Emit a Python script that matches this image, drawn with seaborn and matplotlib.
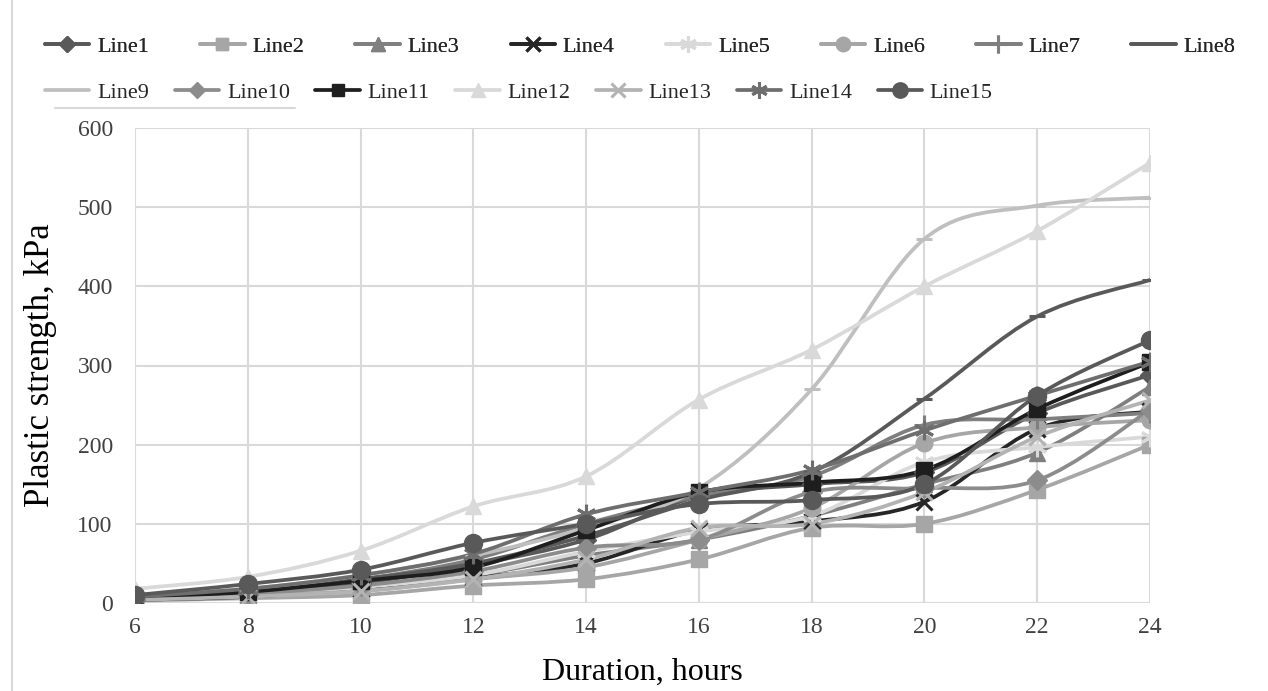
import numpy as np
import pandas as pd
import matplotlib
matplotlib.use("Agg")
import matplotlib.pyplot as plt
from matplotlib.path import Path
from matplotlib.patches import PathPatch
from matplotlib.lines import Line2D
import seaborn as sns

# ---------------- data ----------------
hours = [6, 8, 10, 12, 14, 16, 18, 20, 22, 24]

line1 = [5, 12, 25, 48, 80, 135, 150, 165, 240, 288]
line2 = [3, 6, 10, 22, 30, 55, 95, 100, 143, 200]
line3 = [5, 10, 20, 35, 60, 80, 110, 150, 190, 273]
line4 = [4, 8, 18, 32, 50, 92, 103, 128, 220, 242]
line5 = [5, 10, 20, 35, 65, 90, 110, 178, 197, 210]
line6 = [5, 10, 15, 30, 45, 80, 120, 202, 222, 231]
line7 = [7, 15, 30, 55, 100, 135, 160, 225, 232, 240]
line8 = [8, 15, 30, 50, 85, 130, 165, 258, 362, 408]
line9 = [10, 18, 35, 60, 95, 145, 270, 460, 502, 512]
line10 = [5, 12, 22, 40, 70, 80, 140, 145, 155, 244]
line11 = [5, 14, 28, 45, 92, 140, 152, 168, 245, 304]
line12 = [18, 33, 66, 122, 160, 257, 320, 400, 470, 556]
line13 = [4, 8, 15, 30, 55, 95, 100, 140, 210, 256]
line14 = [8, 18, 35, 62, 112, 140, 168, 218, 262, 305]
line15 = [10, 24, 42, 76, 100, 125, 130, 150, 262, 332]

series_names = [f"Line{i}" for i in range(1, 16)]
series_values = [line1, line2, line3, line4, line5, line6, line7, line8,
                 line9, line10, line11, line12, line13, line14, line15]

x_label = "Duration, hours"
y_label = "Plastic strength, kPa"
x_ticks = [6, 8, 10, 12, 14, 16, 18, 20, 22, 24]
y_ticks = [0, 100, 200, 300, 400, 500, 600]

# ---------------- styles ----------------
ASTER = (6, 2, 0)
styles = {
    "Line1": dict(color="#595959", marker="D", ms=10),
    "Line2": dict(color="#a6a6a6", marker="s", ms=11),
    "Line3": dict(color="#7f7f7f", marker="^", ms=12),
    "Line4": dict(color="#262626", marker="x", ms=12),
    "Line5": dict(color="#d9d9d9", marker=ASTER, ms=14),
    "Line6": dict(color="#a6a6a6", marker="o", ms=12),
    "Line7": dict(color="#7f7f7f", marker="+", ms=15),
    "Line8": dict(color="#595959", marker="_", ms=11),
    "Line9": dict(color="#bfbfbf", marker="_", ms=11),
    "Line10": dict(color="#8c8c8c", marker="D", ms=10),
    "Line11": dict(color="#1e1e1e", marker="s", ms=11),
    "Line12": dict(color="#d9d9d9", marker="^", ms=12),
    "Line13": dict(color="#b3b3b3", marker="x", ms=12),
    "Line14": dict(color="#6e6e6e", marker=ASTER, ms=14),
    "Line15": dict(color="#595959", marker="o", ms=13),
}

sns.set_theme(style="whitegrid")
plt.rcParams["font.family"] = ["Liberation Serif", "DejaVu Serif"]

W, H = 1268, 691
fig = plt.figure(figsize=(W / 100, H / 100), dpi=100)
ax = fig.add_axes([135 / W, 1 - 603 / H, (1150 - 135) / W, (603 - 128) / H])

LW = 2.7


def smooth_path(xs, ys):
    xs = np.asarray(xs, float)
    ys = np.asarray(ys, float)
    pts = np.column_stack([xs, ys])
    n = len(pts)
    verts = [pts[0]]
    codes = [Path.MOVETO]
    for i in range(n - 1):
        p0 = pts[i - 1] if i > 0 else pts[i]
        p1 = pts[i]
        p2 = pts[i + 1]
        p3 = pts[i + 2] if i + 2 < n else pts[i + 1]
        c1 = p1 + (p2 - p0) / 6.0
        c2 = p2 - (p3 - p1) / 6.0
        verts += [c1, c2, p2]
        codes += [Path.CURVE4] * 3
    return Path(verts, codes)


handles = {}
for z, (name, vals) in enumerate(zip(series_names, series_values)):
    st = styles[name]
    df = pd.DataFrame({"x": hours, "y": vals})
    patch = PathPatch(smooth_path(df["x"], df["y"]), facecolor="none",
                      edgecolor=st["color"], lw=LW, zorder=3 + z * 0.01,
                      capstyle="round", joinstyle="round")
    ax.add_patch(patch)
    mew = 2.2 if st["marker"] in ("x", "+", "_", ASTER) else 1.0
    sns.lineplot(data=df, x="x", y="y", ax=ax, linestyle="", marker=st["marker"],
                 markersize=st["ms"], color=st["color"], markeredgecolor=st["color"],
                 markeredgewidth=mew, zorder=4 + z * 0.01, legend=False)
    lm = st["marker"]
    lms = st["ms"] * 0.85
    if name in ("Line8", "Line9"):
        lm = None
    handles[name] = Line2D([0], [0], color=st["color"], lw=LW, marker=lm,
                           markersize=lms, markeredgecolor=st["color"],
                           markeredgewidth=mew)

ax.set_xlim(6, 24)
ax.set_ylim(0, 600)
ax.set_xticks(x_ticks)
ax.set_yticks(y_ticks)
ax.grid(True, color="#d9d9d9", lw=1.5)
for s in ax.spines.values():
    s.set_visible(False)
ax.tick_params(axis="both", labelsize=17, colors="#404040", length=0)
ax.tick_params(axis="y", pad=16)
ax.tick_params(axis="x", pad=10)
ax.set_xlabel(x_label, fontsize=23, color="black")
ax.set_ylabel(y_label, fontsize=25, color="black")
ax.xaxis.set_label_coords(0.5, -0.115)
ax.yaxis.set_label_coords(-0.077, 0.5)

# Legend: two rows, each its own legend
row1 = series_names[:8]
row2 = series_names[8:]
leg1 = fig.legend([handles[n] for n in row1], row1, ncol=8,
                  loc="center left", bbox_to_anchor=(25 / W, 1 - 47 / H),
                  frameon=False, fontsize=16, handlelength=2.0,
                  handletextpad=0.35, columnspacing=2.3)
fig.add_artist(leg1)
leg2 = fig.legend([handles[n] for n in row2], row2, ncol=7,
                  loc="center left", bbox_to_anchor=(25 / W, 1 - 93 / H),
                  frameon=False, fontsize=16, handlelength=2.0,
                  handletextpad=0.35, columnspacing=1.15)

# chart border (left edge) and stray rule under legend
fig.add_artist(Line2D([12 / W, 12 / W], [0, 1], transform=fig.transFigure,
                      color="#d9d9d9", lw=1.5))
fig.add_artist(Line2D([55 / W, 295 / W], [1 - 108 / H] * 2,
                      transform=fig.transFigure, color="#d9d9d9", lw=1.5))

fig.savefig("out.png", dpi=100)
